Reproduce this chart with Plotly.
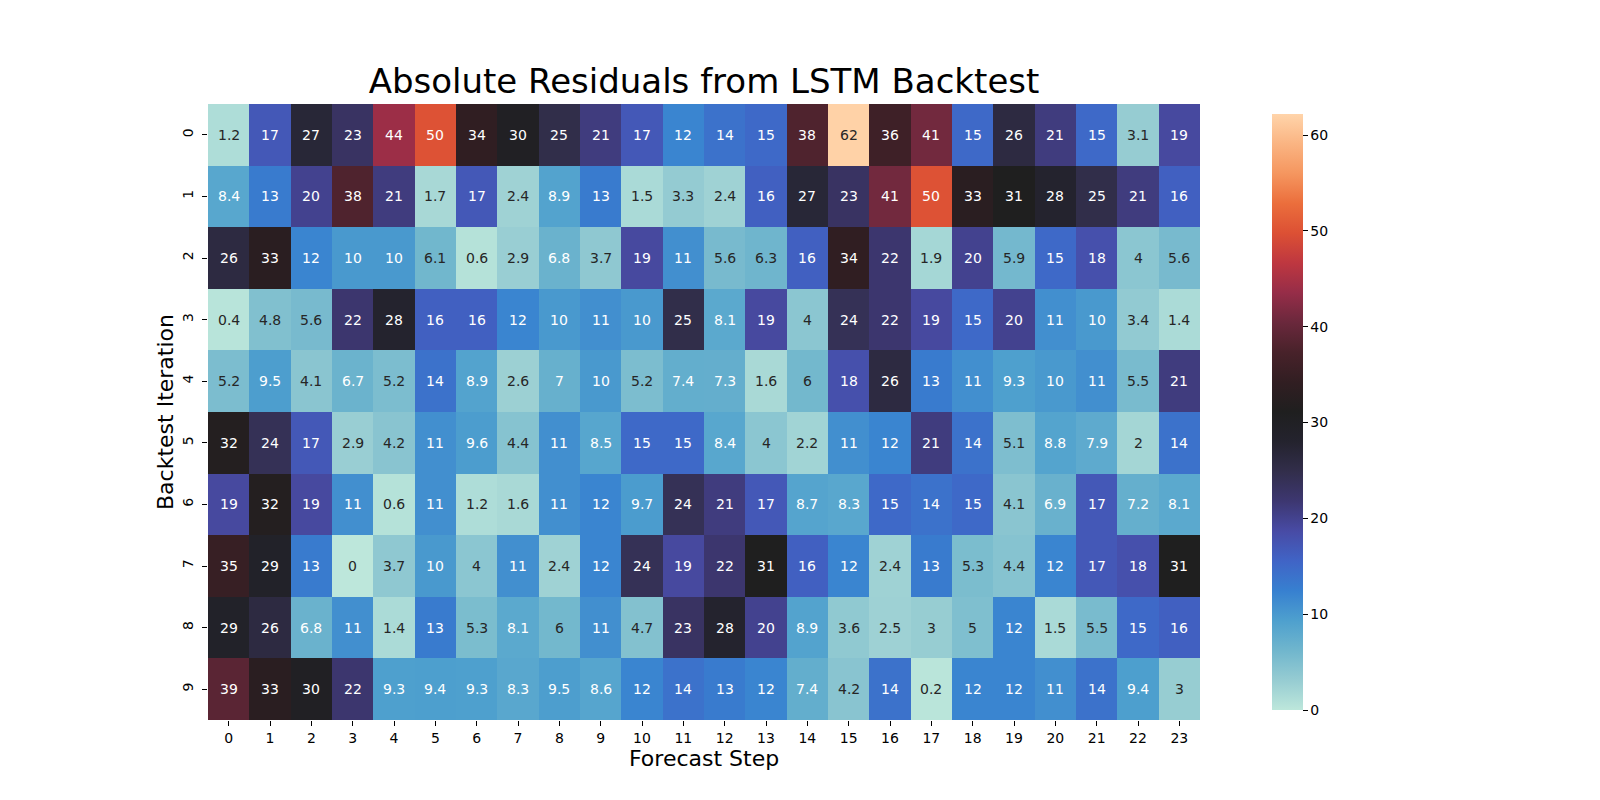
import plotly.graph_objects as go

forecast_steps = list(range(24))
iterations = list(range(10))

row0 = [1.2, 17, 27, 23, 44, 50, 34, 30, 25, 21, 17, 12, 14, 15, 38, 62, 36, 41, 15, 26, 21, 15, 3.1, 19]
row1 = [8.4, 13, 20, 38, 21, 1.7, 17, 2.4, 8.9, 13, 1.5, 3.3, 2.4, 16, 27, 23, 41, 50, 33, 31, 28, 25, 21, 16]
row2 = [26, 33, 12, 10, 10, 6.1, 0.6, 2.9, 6.8, 3.7, 19, 11, 5.6, 6.3, 16, 34, 22, 1.9, 20, 5.9, 15, 18, 4, 5.6]
row3 = [0.4, 4.8, 5.6, 22, 28, 16, 16, 12, 10, 11, 10, 25, 8.1, 19, 4, 24, 22, 19, 15, 20, 11, 10, 3.4, 1.4]
row4 = [5.2, 9.5, 4.1, 6.7, 5.2, 14, 8.9, 2.6, 7, 10, 5.2, 7.4, 7.3, 1.6, 6, 18, 26, 13, 11, 9.3, 10, 11, 5.5, 21]
row5 = [32, 24, 17, 2.9, 4.2, 11, 9.6, 4.4, 11, 8.5, 15, 15, 8.4, 4, 2.2, 11, 12, 21, 14, 5.1, 8.8, 7.9, 2, 14]
row6 = [19, 32, 19, 11, 0.6, 11, 1.2, 1.6, 11, 12, 9.7, 24, 21, 17, 8.7, 8.3, 15, 14, 15, 4.1, 6.9, 17, 7.2, 8.1]
row7 = [35, 29, 13, 0, 3.7, 10, 4, 11, 2.4, 12, 24, 19, 22, 31, 16, 12, 2.4, 13, 5.3, 4.4, 12, 17, 18, 31]
row8 = [29, 26, 6.8, 11, 1.4, 13, 5.3, 8.1, 6, 11, 4.7, 23, 28, 20, 8.9, 3.6, 2.5, 3, 5, 12, 1.5, 5.5, 15, 16]
row9 = [39, 33, 30, 22, 9.3, 9.4, 9.3, 8.3, 9.5, 8.6, 12, 14, 13, 12, 7.4, 4.2, 14, 0.2, 12, 12, 11, 14, 9.4, 3]
residuals = [row0, row1, row2, row3, row4, row5, row6, row7, row8, row9]

colorbar_ticks = [0, 10, 20, 30, 40, 50, 60]
zmin, zmax = 0, 62.2

# approximation of seaborn "icefire"
icefire_stops = [
    (0.00, (189, 231, 219)), (0.05, (150, 204, 210)), (0.10, (112, 182, 205)),
    (0.15, (78, 160, 206)), (0.20, (55, 128, 208)), (0.25, (64, 100, 198)),
    (0.30, (72, 75, 165)), (0.35, (61, 55, 113)), (0.40, (50, 46, 75)),
    (0.45, (36, 35, 46)), (0.50, (31, 31, 31)), (0.55, (49, 30, 34)),
    (0.60, (72, 34, 42)), (0.65, (106, 40, 60)), (0.70, (150, 45, 72)),
    (0.75, (190, 55, 64)), (0.80, (220, 80, 52)), (0.85, (235, 110, 60)),
    (0.90, (245, 150, 95)), (0.95, (250, 180, 130)), (1.00, (255, 212, 170)),
]
colorscale = [[p, "rgb(%d,%d,%d)" % c] for p, c in icefire_stops]


def color_at(v):
    f = min(max((v - zmin) / (zmax - zmin), 0), 1)
    for (p0, c0), (p1, c1) in zip(icefire_stops[:-1], icefire_stops[1:]):
        if p0 <= f <= p1:
            t = (f - p0) / (p1 - p0) if p1 > p0 else 0
            return [c0[i] + t * (c1[i] - c0[i]) for i in range(3)]
    return list(icefire_stops[-1][1])


def luminance(rgb):
    out = []
    for c in rgb:
        c = c / 255
        out.append(c / 12.92 if c <= 0.03928 else ((c + 0.055) / 1.055) ** 2.4)
    return 0.2126 * out[0] + 0.7152 * out[1] + 0.0722 * out[2]


fig = go.Figure()
fig.add_trace(go.Heatmap(
    z=residuals, x=forecast_steps, y=iterations,
    colorscale=colorscale, zmin=zmin, zmax=zmax,
    xgap=0, ygap=0, hoverongaps=False,
    colorbar=dict(
        x=(1254 - 200) / 992, xanchor="left", xref="paper",
        y=0.5, yanchor="middle", len=1.0, lenmode="fraction",
        thickness=31, thicknessmode="pixels", outlinewidth=0,
        tickvals=colorbar_ticks, ticks="outside", ticklen=5, tickwidth=1,
        tickcolor="black", tickfont=dict(size=14, color="black"),
    ),
))

annotations = []
for i, row in enumerate(residuals):
    for j, v in enumerate(row):
        txt_color = "rgb(38,38,38)" if luminance(color_at(v)) > 0.408 else "white"
        annotations.append(dict(
            x=forecast_steps[j], y=iterations[i], xref="x", yref="y",
            text="{:.2g}".format(v), showarrow=False,
            font=dict(size=14, color=txt_color),
        ))

annotations.append(dict(
    x=0.5, y=(712 - 750) / 616, xref="paper", yref="paper",
    text="Forecast Step", showarrow=False, xanchor="center", yanchor="middle",
    font=dict(size=22, color="black"),
))
annotations.append(dict(
    x=(157 - 200) / 992, y=0.5, xref="paper", yref="paper",
    text="Backtest Iteration", showarrow=False, textangle=-90,
    xanchor="center", yanchor="middle",
    font=dict(size=22, color="black"),
))

fig.update_layout(
    width=1600, height=800,
    margin=dict(l=200, r=408, t=96, b=88, autoexpand=False),
    paper_bgcolor="white", plot_bgcolor="white",
    font=dict(family="DejaVu Sans", color="black"),
    title=dict(
        text="Absolute Residuals from LSTM Backtest",
        x=696 / 1600, xanchor="center", xref="container",
        y=1 - 73 / 800, yanchor="middle", yref="container",
        font=dict(size=34, color="black"),
    ),
    xaxis=dict(
        tickvals=forecast_steps, ticktext=[str(s) for s in forecast_steps],
        ticks="outside", ticklen=5, tickwidth=1, tickcolor="black",
        showgrid=False, zeroline=False, showline=False,
        tickfont=dict(size=14), range=[-0.5, 23.5],
    ),
    yaxis=dict(
        tickvals=iterations, ticktext=[str(s) for s in iterations],
        ticks="outside", ticklen=5, tickwidth=1, tickcolor="black",
        showgrid=False, zeroline=False, showline=False,
        tickfont=dict(size=14), tickangle=-90, range=[9.5, -0.5],
        ticklabelstandoff=3,
    ),
    annotations=annotations,
)

fig.write_html("out.html")
